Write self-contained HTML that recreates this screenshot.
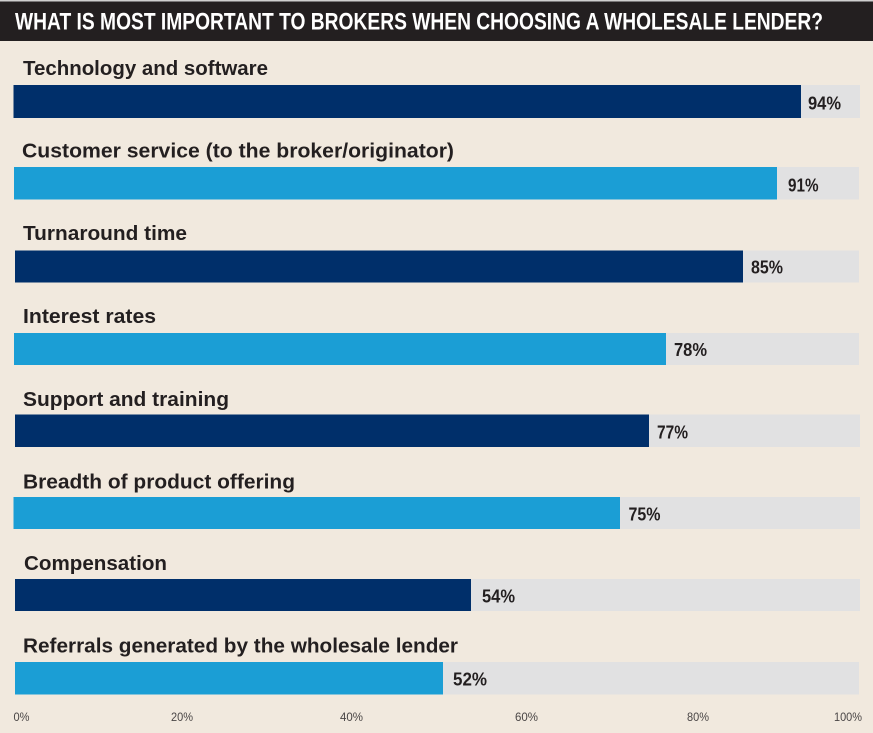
<!DOCTYPE html>
<html>
<head>
<meta charset="utf-8">
<style>
  html, body { margin:0; padding:0; background:#f1e9de; }
  svg { display:block; }
  .lab { font-family:"Liberation Sans", sans-serif; font-weight:bold; font-size:20px; fill:#231f20; }
  .val { font-family:"Liberation Sans", sans-serif; font-weight:bold; font-size:18px; fill:#231f20; }
  .tick { font-family:"Liberation Sans", sans-serif; font-size:12px; fill:#4a4646; }
  .title { font-family:"Liberation Sans", sans-serif; font-weight:bold; font-size:24px; fill:#ffffff; }
</style>
</head>
<body>
<svg width="873" height="733" viewBox="0 0 873 733" xmlns="http://www.w3.org/2000/svg">
  <rect x="0" y="0" width="873" height="733" fill="#f1e9de"/>
  <rect x="0" y="0" width="873" height="1.5" fill="#cfcfcf"/>
  <rect x="0" y="1.5" width="873" height="39.5" fill="#231f20"/>
  <text class="title" x="15" y="29.5" textLength="808" lengthAdjust="spacingAndGlyphs">WHAT IS MOST IMPORTANT TO BROKERS WHEN CHOOSING A WHOLESALE LENDER?</text>

  <!-- Bar 1 -->
  <text class="lab" x="23" y="75" textLength="245" lengthAdjust="spacingAndGlyphs">Technology and software</text>
  <rect x="13.5" y="85" width="846.5" height="33" fill="#e1e1e2"/>
  <rect x="13.5" y="85" width="787.5" height="33" fill="#002f6a"/>
  <text class="val" x="808" y="109.5" textLength="33" lengthAdjust="spacingAndGlyphs">94%</text>

  <!-- Bar 2 -->
  <text class="lab" x="22" y="157.5" textLength="432" lengthAdjust="spacingAndGlyphs">Customer service (to the broker/originator)</text>
  <rect x="14" y="167" width="845" height="32.5" fill="#e1e1e2"/>
  <rect x="14" y="167" width="763" height="32.5" fill="#1b9ed5"/>
  <text class="val" x="788" y="191.5" textLength="30.5" lengthAdjust="spacingAndGlyphs">91%</text>

  <!-- Bar 3 -->
  <text class="lab" x="23" y="240" textLength="164" lengthAdjust="spacingAndGlyphs">Turnaround time</text>
  <rect x="15" y="250.5" width="844" height="32" fill="#e1e1e2"/>
  <rect x="15" y="250.5" width="728" height="32" fill="#002f6a"/>
  <text class="val" x="751" y="273.5" textLength="32" lengthAdjust="spacingAndGlyphs">85%</text>

  <!-- Bar 4 -->
  <text class="lab" x="23" y="323" textLength="133" lengthAdjust="spacingAndGlyphs">Interest rates</text>
  <rect x="14" y="333" width="845" height="32" fill="#e1e1e2"/>
  <rect x="14" y="333" width="652" height="32" fill="#1b9ed5"/>
  <text class="val" x="674" y="356" textLength="33" lengthAdjust="spacingAndGlyphs">78%</text>

  <!-- Bar 5 -->
  <text class="lab" x="23" y="406" textLength="206" lengthAdjust="spacingAndGlyphs">Support and training</text>
  <rect x="15" y="414.5" width="845" height="32.5" fill="#e1e1e2"/>
  <rect x="15" y="414.5" width="634" height="32.5" fill="#002f6a"/>
  <text class="val" x="657" y="438.5" textLength="31" lengthAdjust="spacingAndGlyphs">77%</text>

  <!-- Bar 6 -->
  <text class="lab" x="23" y="488.5" textLength="272" lengthAdjust="spacingAndGlyphs">Breadth of product offering</text>
  <rect x="13.5" y="497" width="846.5" height="32" fill="#e1e1e2"/>
  <rect x="13.5" y="497" width="606.5" height="32" fill="#1b9ed5"/>
  <text class="val" x="628.5" y="520.5" textLength="32" lengthAdjust="spacingAndGlyphs">75%</text>

  <!-- Bar 7 -->
  <text class="lab" x="24" y="570" textLength="143" lengthAdjust="spacingAndGlyphs">Compensation</text>
  <rect x="15" y="579" width="845" height="32" fill="#e1e1e2"/>
  <rect x="15" y="579" width="456" height="32" fill="#002f6a"/>
  <text class="val" x="482" y="602.5" textLength="33" lengthAdjust="spacingAndGlyphs">54%</text>

  <!-- Bar 8 -->
  <text class="lab" x="23" y="652.5" textLength="435" lengthAdjust="spacingAndGlyphs">Referrals generated by the wholesale lender</text>
  <rect x="15" y="662" width="844" height="32.5" fill="#e1e1e2"/>
  <rect x="15" y="662" width="428" height="32.5" fill="#1b9ed5"/>
  <text class="val" x="453" y="685.5" textLength="34" lengthAdjust="spacingAndGlyphs">52%</text>

  <!-- Axis ticks -->
  <text class="tick" x="13.5" y="721" textLength="16" lengthAdjust="spacingAndGlyphs">0%</text>
  <text class="tick" x="171" y="721" textLength="22" lengthAdjust="spacingAndGlyphs">20%</text>
  <text class="tick" x="340" y="721" textLength="23" lengthAdjust="spacingAndGlyphs">40%</text>
  <text class="tick" x="515" y="721" textLength="23" lengthAdjust="spacingAndGlyphs">60%</text>
  <text class="tick" x="687" y="721" textLength="22" lengthAdjust="spacingAndGlyphs">80%</text>
  <text class="tick" x="834" y="721" textLength="28" lengthAdjust="spacingAndGlyphs">100%</text>
</svg>
</body>
</html>
